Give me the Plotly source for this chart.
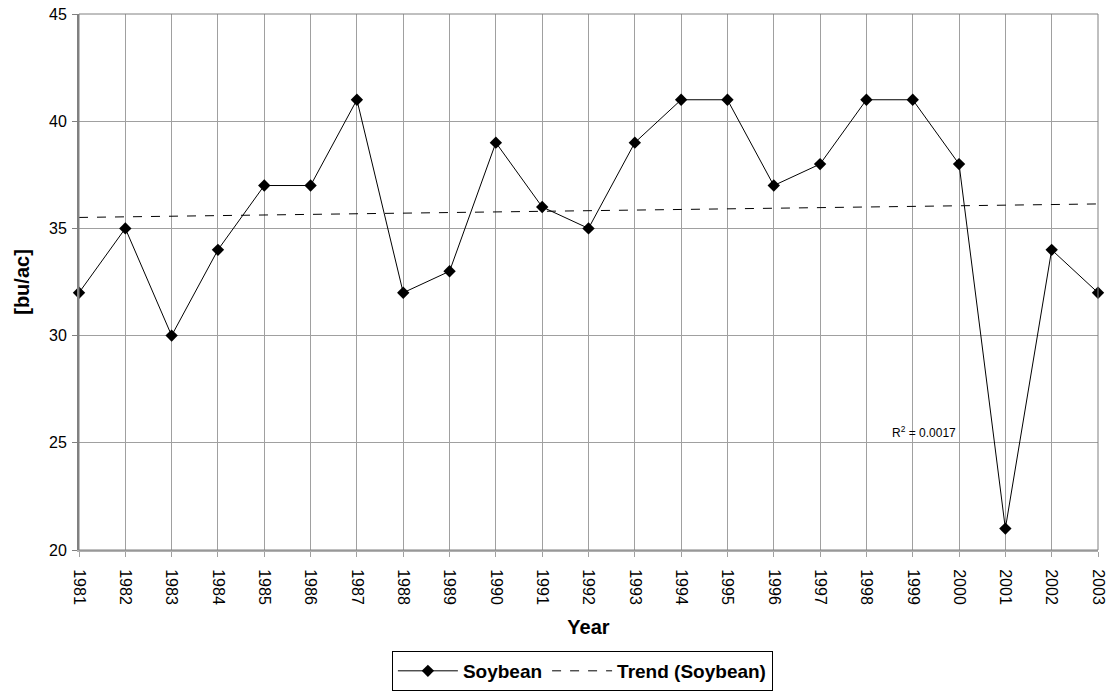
import numpy as np
import plotly.graph_objects as go

years = list(range(1981, 2004))
soybean = [32, 35, 30, 34, 37, 37, 41, 32, 33, 39, 36, 35,
           39, 41, 41, 37, 38, 41, 41, 38, 21, 34, 32]
y_ticks = [20, 25, 30, 35, 40, 45]

# linear trend, as the spreadsheet computes it
slope, intercept = np.polyfit(years, soybean, 1)
trend = [slope * yr + intercept for yr in (years[0], years[-1])]

FONT = "Liberation Sans, Arial, sans-serif"

fig = go.Figure()
fig.add_trace(go.Scatter(
    x=years, y=soybean, name="Soybean", mode="lines+markers",
    line=dict(color="black", width=1),
    marker=dict(symbol="diamond", size=9.5, color="black"),
    cliponaxis=False,
))
fig.add_trace(go.Scatter(
    x=[years[0], years[-1]], y=trend, name="Trend (Soybean)", mode="lines",
    line=dict(color="black", width=1, dash="dash"),
))

fig.add_annotation(
    x=1999.25, y=25.5, xref="x", yref="y", showarrow=False,
    text="R<sup>2</sup> = 0.0017", font=dict(family=FONT, size=12, color="black"),
)

fig.update_layout(
    width=1107, height=694,
    margin=dict(l=79, r=9, t=14, b=144),
    paper_bgcolor="white", plot_bgcolor="white",
    font=dict(family=FONT, color="black"),
    showlegend=True,
    legend=dict(
        orientation="h", x=0.494, xanchor="center",
        yref="container", y=0.062, yanchor="top",
        bordercolor="black", borderwidth=1,
        font=dict(family=FONT, size=19, color="black", weight="bold"),
        itemwidth=60, tracegroupgap=0,
    ),
    xaxis=dict(
        range=[1981, 2003], tickmode="array", tickvals=years,
        ticktext=[str(y) for y in years], tickangle=90,
        showgrid=True, gridcolor="#a0a0a0", gridwidth=1,
        showline=True, linecolor="#b0b0b0", linewidth=2,
        ticks="outside", ticklen=5, tickcolor="#a0a0a0",
        ticklabelstandoff=9,
        tickfont=dict(family=FONT, size=16, color="black"),
        title=dict(text="Year", font=dict(family=FONT, size=20, weight="bold"), standoff=16),
        zeroline=False, automargin=False,
    ),
    yaxis=dict(
        range=[20, 45], tickvals=y_ticks,
        showgrid=True, gridcolor="#a0a0a0", gridwidth=1,
        showline=True, linecolor="#808080", linewidth=2,
        ticks="outside", ticklen=5, tickcolor="#808080",
        ticklabelstandoff=2,
        tickfont=dict(family=FONT, size=16, color="black"),
        title=dict(text="[bu/ac]", font=dict(family=FONT, size=20, weight="bold"), standoff=14),
        zeroline=False, automargin=False,
    ),
)
fig.add_shape(type="rect", xref="paper", yref="paper", x0=0, y0=0, x1=1, y1=1,
              line=dict(color="#808080", width=1), layer="above")

fig.write_html("out.html", config={"displayModeBar": False},
               post_script="document.body.style.margin='0';")
